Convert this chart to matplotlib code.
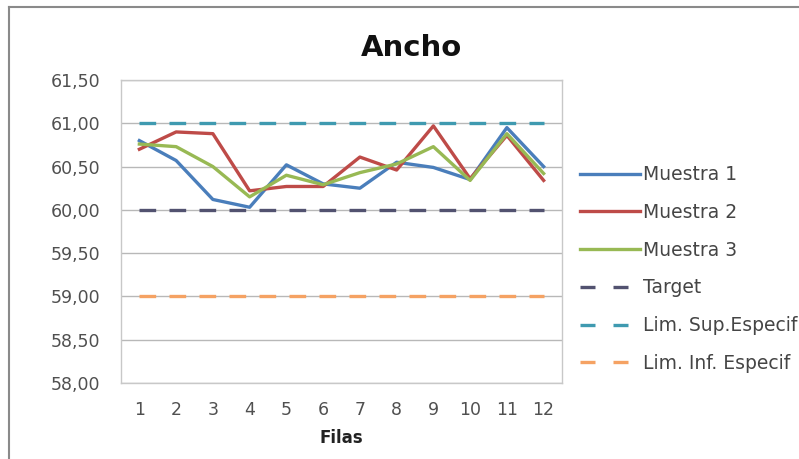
import matplotlib
matplotlib.use("Agg")
import matplotlib.pyplot as plt
from matplotlib.ticker import FuncFormatter
from matplotlib.lines import Line2D

plt.rcParams['font.family'] = ['DejaVu Sans']

filas = [1, 2, 3, 4, 5, 6, 7, 8, 9, 10, 11, 12]
muestra1 = [60.80, 60.57, 60.12, 60.03, 60.52, 60.30, 60.25, 60.55, 60.49, 60.35, 60.95, 60.50]
muestra2 = [60.70, 60.90, 60.88, 60.22, 60.27, 60.27, 60.61, 60.46, 60.97, 60.36, 60.86, 60.34]
muestra3 = [60.76, 60.73, 60.50, 60.15, 60.40, 60.29, 60.43, 60.53, 60.73, 60.34, 60.88, 60.42]
target = [60.00] * 12
lim_sup = [61.00] * 12
lim_inf = [59.00] * 12
y_ticks = [58.0, 58.5, 59.0, 59.5, 60.0, 60.5, 61.0, 61.5]

fig = plt.figure(figsize=(7.99, 4.59), dpi=100)
ax = fig.add_axes([121/799, 1-383/459, (562-121)/799, (383-80)/459])

lw = 2.4
dash = (0, (5, 4))
c_t, c_s, c_i = '#525270', '#3f9ab0', '#f5a263'
c1, c2, c3 = '#4a7ebb', '#be4b48', '#98b954'
ax.plot(filas, target, color=c_t, lw=lw, linestyle=dash, zorder=2)
ax.plot(filas, lim_sup, color=c_s, lw=lw, linestyle=dash, zorder=2)
ax.plot(filas, lim_inf, color=c_i, lw=lw, linestyle=dash, zorder=2)
ax.plot(filas, muestra1, color=c1, lw=lw, zorder=3)
ax.plot(filas, muestra2, color=c2, lw=lw, zorder=3)
ax.plot(filas, muestra3, color=c3, lw=lw, zorder=3)

ax.set_xlim(0.5, 12.5)
ax.set_ylim(58.0, 61.5)
ax.set_yticks(y_ticks)
ax.yaxis.set_major_formatter(FuncFormatter(lambda v, p: f"{v:.2f}".replace('.', ',')))
ax.set_xticks(filas)
ax.grid(axis='y', color='#b8b8b8', lw=1)
ax.set_axisbelow(True)
for s in ax.spines.values():
    s.set_color('#c8c8c8')
    s.set_linewidth(1)
ax.tick_params(axis='both', length=0, labelsize=12.5, colors='#505050')
ax.tick_params(axis='x', pad=13)
ax.tick_params(axis='y', pad=15)
ax.set_xlabel('Filas', fontsize=12, fontweight='bold', color='#222222', labelpad=7)

fig.text(411/799, 1-56/459, 'Ancho', ha='center', va='baseline', fontsize=21,
         fontweight='bold', color='#111111')

ldash = (0, (4.5, 5.4))
handles = [
    Line2D([], [], color=c1, lw=lw),
    Line2D([], [], color=c2, lw=lw),
    Line2D([], [], color=c3, lw=lw),
    Line2D([], [], color=c_t, lw=lw, linestyle=ldash),
    Line2D([], [], color=c_s, lw=lw, linestyle=ldash),
    Line2D([], [], color=c_i, lw=lw, linestyle=ldash),
]
labels = ['Muestra 1', 'Muestra 2', 'Muestra 3', 'Target', 'Lim. Sup.Especif',
          'Lim. Inf. Especif']
leg = ax.legend(handles, labels,
                loc='center left', bbox_to_anchor=(580/799, 1-269/459),
                bbox_transform=fig.transFigure, frameon=False, fontsize=13.5,
                handlelength=3.2, handletextpad=0.16, labelspacing=1.0,
                labelcolor='#454545', borderpad=0, borderaxespad=0)

# outer chart border (top and left)
fig.add_artist(Line2D([9/799, 9/799], [0, 1-7/459], transform=fig.transFigure,
                      color='#8a8a8a', lw=1.5))
fig.add_artist(Line2D([9/799, 1], [1-7/459, 1-7/459], transform=fig.transFigure,
                      color='#8a8a8a', lw=1.5))

fig.savefig('out.png', dpi=100)
